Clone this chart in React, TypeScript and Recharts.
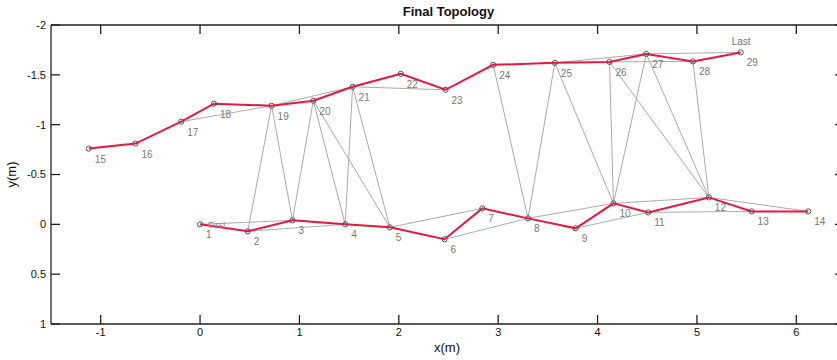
import { Scatter, ScatterChart, XAxis, YAxis } from 'recharts';

// node coordinates in metres, node n is at index n - 1
const NODE_X = [
  0, 0.48, 0.93, 1.46, 1.91, 2.46, 2.84, 3.3, 3.78, 4.16, 4.51, 5.12, 5.55, 6.12,
  -1.12, -0.65, -0.19, 0.14, 0.72, 1.14, 1.535, 2.02, 2.47, 2.95, 3.57, 4.12, 4.49, 4.96, 5.44,
];
const NODE_Y = [
  0, 0.07, -0.04, 0.0, 0.03, 0.15, -0.16, -0.06, 0.04, -0.21, -0.12, -0.27, -0.13, -0.13,
  -0.76, -0.81, -1.03, -1.21, -1.19, -1.24, -1.38, -1.51, -1.35, -1.6, -1.62, -1.63, -1.71, -1.635, -1.725,
];

const LOWER_PATH = [1, 2, 3, 4, 5, 6, 7, 8, 9, 10, 11, 12, 13, 14];
const UPPER_PATH = [15, 16, 17, 18, 19, 20, 21, 22, 23, 24, 25, 26, 27, 28, 29];

// grey constraint edges between node ids
const SKIP_EDGES: [number, number][] = [
  [17, 19], [19, 21], [21, 23], [25, 27], [26, 28], [27, 29],
  [1, 3], [3, 5], [5, 7], [8, 10], [10, 12], [12, 14], [11, 13],
];
const BLUE_EDGES: [number, number][] = [[2, 4], [6, 8], [9, 11]];
const CROSS_EDGES: [number, number][] = [
  [19, 2], [19, 3], [20, 3], [20, 4], [20, 5], [21, 4], [21, 5],
  [24, 8], [25, 8], [25, 10], [26, 10], [27, 10], [26, 12], [27, 12], [28, 12],
];

const X_TICKS = [-1, 0, 1, 2, 3, 4, 5, 6];
const Y_TICKS = [-2, -1.5, -1, -0.5, 0, 0.5, 1];
const EXTRA_LABELS: Record<number, string> = { 1: 'First', 29: 'Last' };

const RED = '#e8173f';
const GREY = '#ababab';
const BLUE_GREY = '#a9aec6';
const AXIS = '#222';
const FONT = 'Arial, "Liberation Sans", sans-serif';

const pt = (id: number) => ({ x: NODE_X[id - 1], y: NODE_Y[id - 1], id });

const Empty = () => <g />;

function NodeMark(props: any) {
  const { cx, cy, payload } = props;
  if (cx == null || cy == null) return <g />;
  const id: number = payload.id;
  const extra = EXTRA_LABELS[id];
  return (
    <g>
      <circle cx={cx} cy={cy} r={2.6} fill="none" stroke="#555" strokeWidth={1} />
      <text x={cx + 6} y={cy + 14} fontSize={10} fill="#777" fontFamily={FONT}>
        {id}
      </text>
      {extra === 'First' && (
        <text x={cx + 8} y={cy + 4} fontSize={9} fill="#8a8a8a" fontFamily={FONT}>
          {extra}
        </text>
      )}
      {extra === 'Last' && (
        <text x={cx - 9} y={cy - 7} fontSize={10} fill="#777" fontFamily={FONT}>
          {extra}
        </text>
      )}
    </g>
  );
}

function edgeSeries(edges: [number, number][], color: string, prefix: string) {
  return edges.map(([a, b]) => (
    <Scatter
      key={`${prefix}-${a}-${b}`}
      data={[pt(a), pt(b)]}
      line={{ stroke: color, strokeWidth: 1 }}
      shape={Empty}
      isAnimationActive={false}
    />
  ));
}

const textStyle = {
  position: 'absolute' as const,
  fontSize: 13,
  lineHeight: '15px',
  color: '#111',
  whiteSpace: 'nowrap' as const,
};

export default function App() {
  return (
    <div
      style={{
        position: 'absolute',
        left: 0,
        top: 0,
        width: 837,
        height: 360,
        overflow: 'hidden',
        background: '#fff',
        fontFamily: FONT,
      }}
    >
      <ScatterChart width={860} height={360} margin={{ top: 24, right: 13, bottom: 0, left: 0 }}>
        <XAxis
          dataKey="x"
          type="number"
          domain={[-1.5, 6.5]}
          ticks={X_TICKS}
          allowDataOverflow
          height={36}
          tickSize={-9}
          tickMargin={13}
          stroke={AXIS}
          strokeWidth={1.3}
          tick={{ fill: '#111', fontSize: 11, fontFamily: FONT }}
        />
        <XAxis
          xAxisId="top"
          orientation="top"
          dataKey="x"
          type="number"
          domain={[-1.5, 6.5]}
          ticks={X_TICKS}
          allowDataOverflow
          height={1}
          tickSize={-9}
          tick={Empty}
          stroke={AXIS}
          strokeWidth={1.3}
        />
        <YAxis
          dataKey="y"
          type="number"
          domain={[-2, 1]}
          ticks={Y_TICKS}
          reversed
          allowDataOverflow
          width={51}
          tickSize={-9}
          tickMargin={14}
          stroke={AXIS}
          strokeWidth={1.3}
          tick={{ fill: '#111', fontSize: 11, fontFamily: FONT }}
        />
        <YAxis
          yAxisId="right"
          orientation="right"
          dataKey="y"
          type="number"
          domain={[-2, 1]}
          ticks={Y_TICKS}
          reversed
          allowDataOverflow
          width={1}
          tickSize={-11}
          tick={Empty}
          stroke={AXIS}
          strokeWidth={1.3}
        />
        {/* binds the frame axes so they get drawn */}
        <Scatter xAxisId="top" yAxisId="right" data={[pt(1)]} shape={Empty} isAnimationActive={false} />
        {edgeSeries(CROSS_EDGES, GREY, 'c')}
        {edgeSeries(SKIP_EDGES, GREY, 's')}
        {edgeSeries(BLUE_EDGES, BLUE_GREY, 'b')}
        <Scatter
          data={UPPER_PATH.map(pt)}
          line={{ stroke: RED, strokeWidth: 2 }}
          shape={NodeMark}
          isAnimationActive={false}
        />
        <Scatter
          data={LOWER_PATH.map(pt)}
          line={{ stroke: RED, strokeWidth: 2 }}
          shape={NodeMark}
          isAnimationActive={false}
        />
      </ScatterChart>
      <div style={{ ...textStyle, left: 0, width: 897, top: 4, textAlign: 'center', fontWeight: 'bold' }}>
        Final Topology
      </div>
      <div style={{ ...textStyle, left: 434, top: 340 }}>x(m)</div>
      <div style={{ ...textStyle, left: -2, top: 167, transform: 'rotate(-90deg)' }}>y(m)</div>
    </div>
  );
}
